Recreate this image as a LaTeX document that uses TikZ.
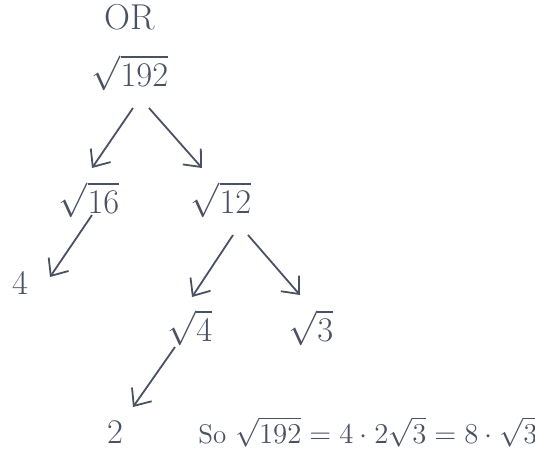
\documentclass[tikz,border=0pt]{standalone}
\usepackage{amsmath,amssymb}
\usepackage{xcolor}
\usepackage{tikz}
\usetikzlibrary{arrows.meta}
\definecolor{ink}{HTML}{4A5163}

\begin{document}
\begin{tikzpicture}[
  x=0.5pt, y=-0.5pt,
  num/.style={inner sep=0pt, text=ink, font=\fontsize{16}{19}\selectfont},
  big/.style={inner sep=0pt, text=ink, font=\fontsize{19}{23}\selectfont},
  arr/.style={draw=ink, line width=0.9pt, -{Straight Barb[length=7pt, width=12pt, line width=0.9pt]}}
]
  \useasboundingbox (0,0) rectangle (535,450);

  \node[big, font=\fontsize{18}{21}\selectfont] (Or) at (130,17) {OR};
  \node[big] (R192) at (130,73) {$\sqrt{192}$};
  \node[num] (R16) at (89,200) {$\sqrt{16}$};
  \node[num] (R12) at (221,200) {$\sqrt{12}$};
  \node[num] (Four) at (20,283) {$4$};
  \node[num] (R4) at (190,328) {$\sqrt{4}$};
  \node[num] (R3) at (311,328) {$\sqrt{3}$};
  \node[num] (Two) at (115,432) {$2$};
  \node[num, anchor=west, font=\fontsize{13.5}{16}\selectfont] (Result) at (198,432) {So $\sqrt{192} = 4\cdot 2\sqrt{3} = 8\cdot\sqrt{3}$};

  \draw[arr] ([shift={(3,35)}]R192.center) -- ([shift={(3,-32)}]R16.center);
  \draw[arr] ([shift={(19,35)}]R192.center) -- ([shift={(-19,-32)}]R12.center);
  \draw[arr] ([shift={(3,15)}]R16.center) -- ([shift={(30,-6)}]Four.center);
  \draw[arr] ([shift={(12,35)}]R12.center) -- ([shift={(2,-31)}]R4.center);
  \draw[arr] ([shift={(27,35)}]R12.center) -- ([shift={(-11,-33)}]R3.center);
  \draw[arr] ([shift={(-15,19)}]R4.center) -- ([shift={(18,-25)}]Two.center);
\end{tikzpicture}
\end{document}
